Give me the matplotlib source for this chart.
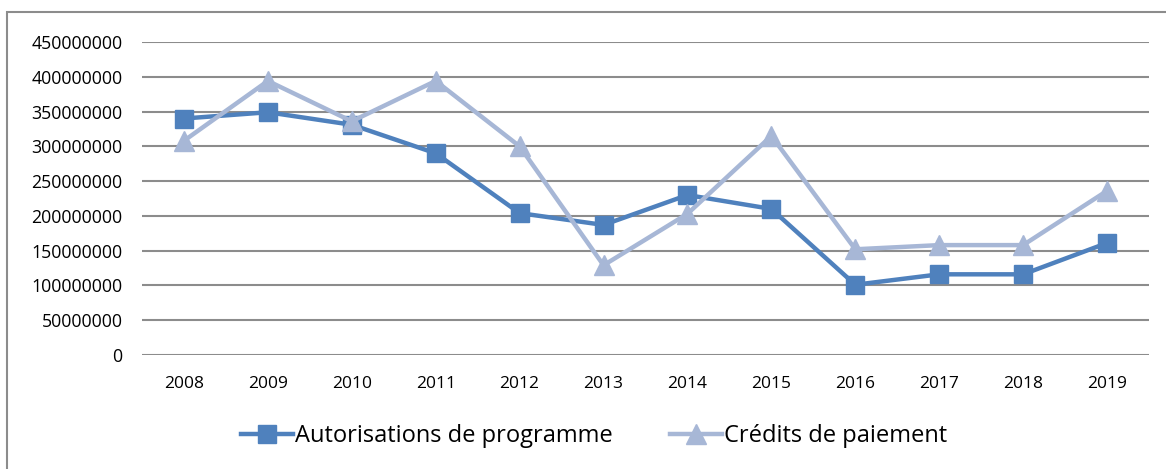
import matplotlib.pyplot as plt
from matplotlib.patches import Rectangle

# data
years = ["2008", "2009", "2010", "2011", "2012", "2013",
         "2014", "2015", "2016", "2017", "2018", "2019"]
autorisations = [340e6, 349e6, 331e6, 290e6, 204e6, 187e6,
                 230e6, 210e6, 101e6, 116e6, 116e6, 161e6]
credits = [308e6, 394e6, 336e6, 394e6, 300e6, 129e6,
           203e6, 315e6, 152e6, 158e6, 158e6, 236e6]
yticks = list(range(0, 450000001, 50000000))

plt.rcParams['font.family'] = ['Open Sans', 'DejaVu Sans']

fig = plt.figure(figsize=(11.66, 4.69), dpi=100)
ax = fig.add_axes([142 / 1166, 1 - 355 / 469, (1149 - 142) / 1166, (355 - 42) / 469])

x = range(len(years))
ax.plot(x, autorisations, color='#4F81BD', lw=3.2, marker='s', ms=13,
        label='Autorisations de programme', zorder=3)
ax.plot(x, credits, color='#A7B7D6', lw=3.2, marker='^', ms=15,
        label='Crédits de paiement', zorder=4)

ax.set_xlim(-0.5, len(years) - 0.5)
ax.set_ylim(0, 450000000)
ax.set_yticks(yticks)
ax.set_yticklabels([str(v) for v in yticks], fontsize=12.8)
ax.set_xticks(list(x))
ax.set_xticklabels(years, fontsize=12.5)
ax.tick_params(axis='y', length=0, pad=14)
ax.tick_params(axis='x', length=0, pad=15)
ax.yaxis.grid(True, color='#8C8C8C', lw=1.5)
ax.set_axisbelow(True)
for s in ax.spines.values():
    s.set_visible(False)

# outer chart frame (cropped on right and bottom)
fig.patches.append(Rectangle((7 / 1166, -0.1), 1.2, 1 - 12 / 469 + 0.1,
                             transform=fig.transFigure, fill=False,
                             edgecolor='#8C8C8C', lw=1.5))

fig.legend(loc='center', bbox_to_anchor=(594 / 1166, 1 - 436 / 469), ncol=2,
           frameon=False, handlelength=2.2, columnspacing=2.4,
           handletextpad=0.1,
           prop={'family': ['Open Sans', 'DejaVu Sans'], 'size': 17})

fig.savefig('out.png', dpi=100)
